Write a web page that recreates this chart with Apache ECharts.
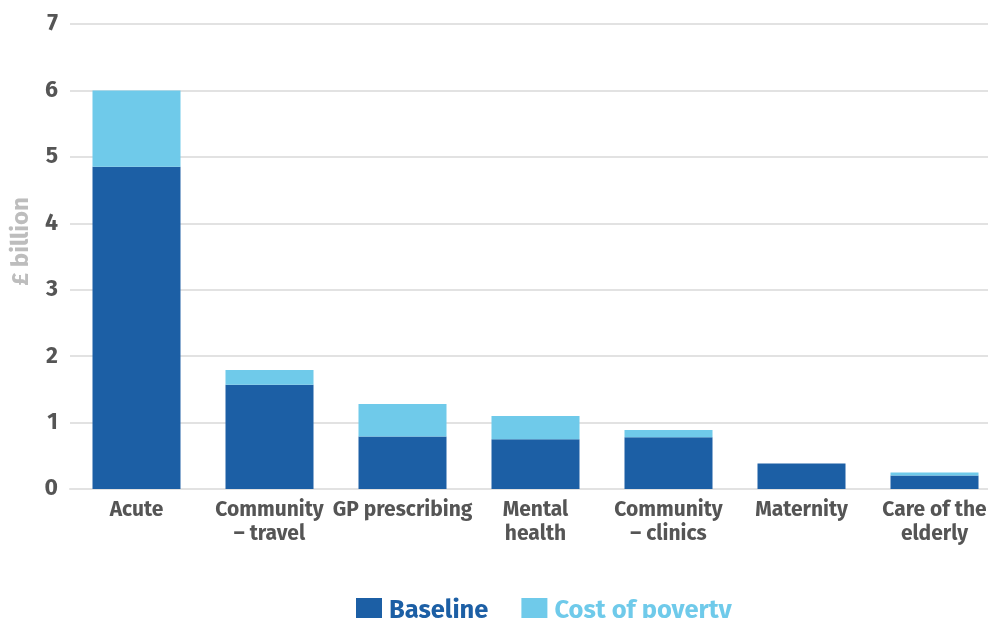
<!DOCTYPE html>
<html>
<head>
<meta charset="utf-8">
<script src="https://cdn.jsdelivr.net/npm/echarts@6/dist/echarts.min.js"></script>
<style>
  html, body { margin: 0; padding: 0; background: #fff; overflow: hidden; }
  /* the plot runs slightly past the right edge of the window */
  #chart { width: 1003px; height: 618px; }
</style>
</head>
<body>
<div id="chart"></div>
<script>
// NHS spending areas, £ billion
const categories = ['Acute', 'Community\n– travel', 'GP prescribing', 'Mental\nhealth', 'Community\n– clinics', 'Maternity', 'Care of the\nelderly'];
const baseline = [4.85, 1.57, 0.79, 0.75, 0.78, 0.385, 0.205];
const costOfPoverty = [1.15, 0.22, 0.49, 0.35, 0.11, 0, 0.045];
const yTicks = [0, 1, 2, 3, 4, 5, 6, 7];

const DARK = '#1C5FA5';
const LIGHT = '#6FCAEA';
const FONT = '"Fira Sans", "Open Sans", "Noto Sans", sans-serif';

const chart = echarts.init(document.getElementById('chart'), null, { renderer: 'canvas' });
chart.setOption({
  animation: false,
  textStyle: { fontFamily: FONT },
  grid: { left: 70, top: 24, right: 2, bottom: 129, containLabel: false },
  xAxis: {
    type: 'category',
    data: categories,
    axisLine: { show: true, lineStyle: { color: '#e2e2e2', width: 2 } },
    axisTick: { show: false },
    axisLabel: {
      color: '#555', fontWeight: 'bold', fontSize: 21, lineHeight: 24,
      fontFamily: FONT, margin: 9, interval: 0
    }
  },
  yAxis: {
    type: 'value',
    min: yTicks[0], max: yTicks[yTicks.length - 1], interval: 1,
    name: '£ billion',
    nameLocation: 'middle',
    nameGap: 28,
    nameRotate: 90,
    nameTextStyle: { color: '#bdbdbd', fontWeight: 'bold', fontSize: 24, fontFamily: FONT, padding: [0, 0, 0, 30] },
    axisLine: { show: false },
    axisTick: { show: false },
    splitLine: { lineStyle: { color: '#e2e2e2', width: 2 } },
    axisLabel: { color: '#555', fontWeight: 'bold', fontSize: 23, margin: 12, fontFamily: FONT }
  },
  legend: {
    top: 593,
    left: 351,
    itemWidth: 26,
    itemHeight: 26,
    itemGap: 33,
    icon: 'rect',
    textStyle: { fontSize: 25.5, fontWeight: 'bold', fontFamily: FONT, padding: [0, 0, 0, 2] },
    data: [
      { name: 'Baseline', textStyle: { color: DARK } },
      { name: 'Cost of poverty', textStyle: { color: LIGHT } }
    ]
  },
  series: [
    {
      name: 'Baseline', type: 'bar', stack: 'total', data: baseline,
      barWidth: 88,
      itemStyle: { color: DARK }
    },
    {
      name: 'Cost of poverty', type: 'bar', stack: 'total', data: costOfPoverty,
      barWidth: 88,
      itemStyle: { color: LIGHT }
    }
  ]
});
</script>
</body>
</html>
